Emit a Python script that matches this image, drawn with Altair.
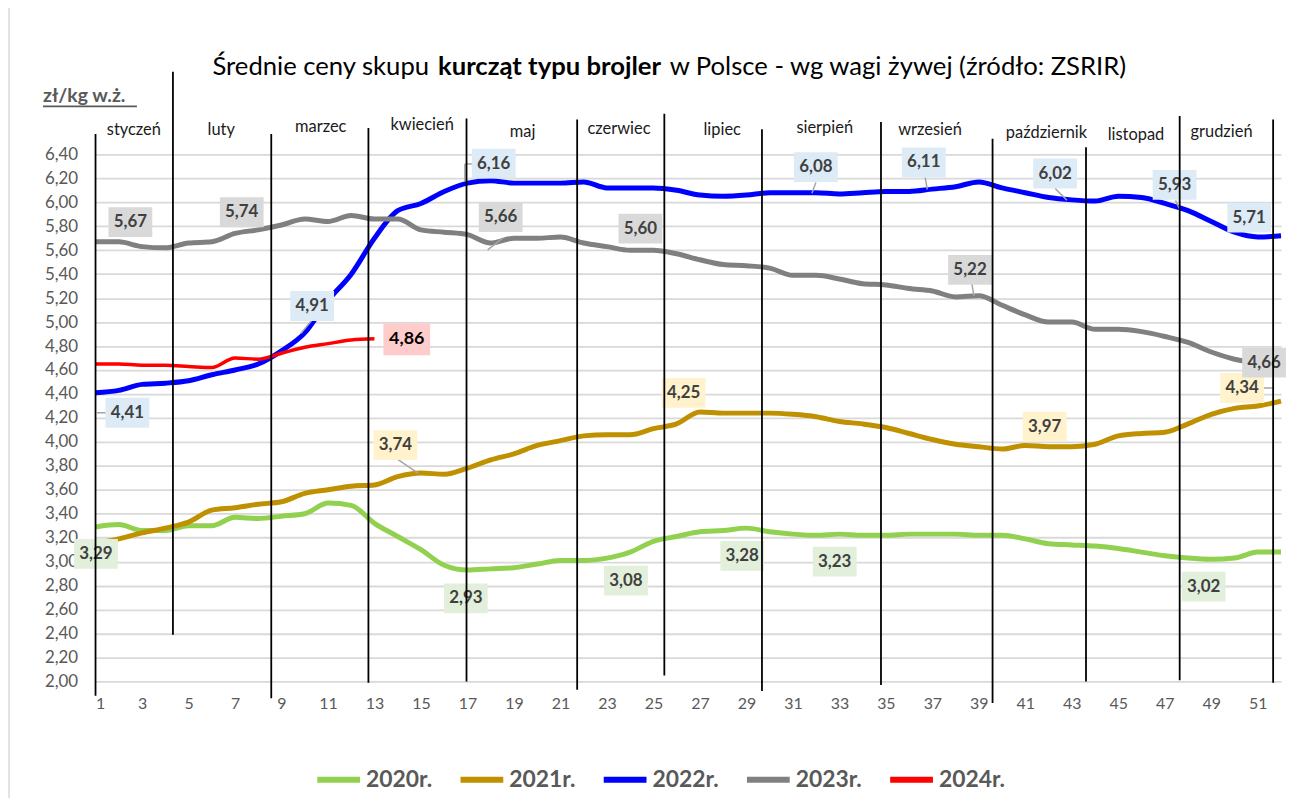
import altair as alt
import pandas as pd

# ---------------- data ----------------
weeks = list(range(1, 53))
years = ["2020r.", "2021r.", "2022r.", "2023r.", "2024r."]

p2020 = [3.29, 3.31, 3.26, 3.26, 3.30, 3.30, 3.37, 3.36, 3.38, 3.40, 3.49, 3.47, 3.32,
         3.21, 3.10, 2.97, 2.93, 2.94, 2.95, 2.98, 3.01, 3.01, 3.03, 3.08, 3.17, 3.21,
         3.25, 3.26, 3.28, 3.25, 3.23, 3.22, 3.23, 3.22, 3.22, 3.23, 3.23, 3.23, 3.22,
         3.22, 3.19, 3.15, 3.14, 3.13, 3.11, 3.08, 3.05, 3.03, 3.02, 3.03, 3.08, 3.08]
p2021 = [3.15, 3.19, 3.24, 3.28, 3.33, 3.43, 3.45, 3.48, 3.50, 3.57, 3.60, 3.63, 3.64,
         3.71, 3.74, 3.73, 3.78, 3.85, 3.90, 3.97, 4.01, 4.05, 4.06, 4.06, 4.11, 4.15,
         4.25, 4.24, 4.24, 4.24, 4.23, 4.21, 4.17, 4.15, 4.12, 4.07, 4.02, 3.98, 3.96,
         3.94, 3.97, 3.96, 3.96, 3.98, 4.05, 4.07, 4.08, 4.15, 4.23, 4.28, 4.30, 4.34]
p2022 = [4.41, 4.43, 4.48, 4.49, 4.51, 4.56, 4.60, 4.65, 4.76, 4.91, 5.18, 5.40, 5.70,
         5.93, 5.99, 6.09, 6.16, 6.18, 6.16, 6.16, 6.16, 6.17, 6.12, 6.12, 6.12, 6.10,
         6.06, 6.05, 6.06, 6.08, 6.08, 6.08, 6.07, 6.08, 6.09, 6.09, 6.11, 6.13, 6.17,
         6.12, 6.08, 6.04, 6.02, 6.01, 6.05, 6.04, 5.99, 5.93, 5.84, 5.75, 5.71, 5.72]
p2023 = [5.67, 5.67, 5.63, 5.62, 5.66, 5.67, 5.74, 5.77, 5.81, 5.86, 5.84, 5.89, 5.86,
         5.86, 5.77, 5.75, 5.73, 5.66, 5.70, 5.70, 5.71, 5.66, 5.63, 5.60, 5.60, 5.57,
         5.52, 5.48, 5.47, 5.45, 5.39, 5.39, 5.36, 5.32, 5.31, 5.28, 5.26, 5.21, 5.22,
         5.14, 5.06, 5.00, 5.00, 4.94, 4.94, 4.92, 4.88, 4.83, 4.75, 4.69, 4.66, 4.65]
p2024 = [4.65, 4.65, 4.64, 4.64, 4.63, 4.62, 4.70, 4.69, 4.74, 4.79, 4.82, 4.85, 4.86]

series = [p2020, p2021, p2022, p2023, p2024]

y_ticks = [round(2.0 + 0.2 * i, 2) for i in range(23)]
x_ticks = list(range(1, 53, 2))

months = ["styczeń", "luty", "marzec", "kwiecień", "maj", "czerwiec", "lipiec",
          "sierpień", "wrzesień", "październik", "listopad", "grudzień"]

# month separator lines (week position, top value, bottom value)
sep_week = [1.0, 4.33, 8.56, 12.74, 16.96, 21.72, 25.47, 29.67, 34.79, 39.59, 43.61, 47.64, 51.66]
sep_top = [6.57, 7.09, 6.57, 6.62, 6.70, 6.69, 6.74, 6.61, 6.67, 6.53, 6.46, 6.72, 6.69]
sep_bot = [1.88, 2.39, 1.86, 1.99, 2.00, 1.93, 2.05, 1.92, 1.97, 1.82, 2.00, 2.01, 1.99]

# labelled points: (series index, week)
label_pts = [(0, 1), (0, 17), (0, 24), (0, 29), (0, 33), (0, 49),
             (1, 15), (1, 27), (1, 41), (1, 52),
             (2, 1), (2, 10), (2, 17), (2, 32), (2, 37), (2, 43), (2, 48), (2, 51),
             (3, 1), (3, 7), (3, 18), (3, 24), (3, 39), (3, 51),
             (4, 13)]

# ---------------- layout (annotation placement, in axis units) ----------------
month_lx = [2.65, 6.41, 10.69, 15.05, 19.37, 23.52, 27.96, 32.37, 36.9, 41.91, 45.76, 49.44]
month_ly = [6.564, 6.564, 6.589, 6.605, 6.547, 6.572, 6.564, 6.580, 6.564, 6.539, 6.522, 6.547]

label_pos = [(1.02, 3.065), (16.93, 2.693), (23.82, 2.842), (28.82, 3.049), (32.80, 3.00), (48.67, 2.792),
             (13.90, 3.973), (26.30, 4.409), (41.83, 4.127), (50.33, 4.450),
             (2.37, 4.243), (10.32, 5.134), (18.13, 6.323), (31.99, 6.294), (36.63, 6.332),
             (42.28, 6.240), (47.42, 6.145), (50.63, 5.872),
             (2.50, 5.834), (7.29, 5.917), (18.43, 5.876), (24.44, 5.780), (38.62, 5.436), (51.27, 4.661),
             (14.39, 4.856)]

leaders = [(14.0, 3.853, 14.89, 3.737), (10.30, 5.013, 9.83, 4.905),
           (17.32, 6.32, 16.89, 6.32), (16.89, 6.32, 16.89, 6.174),
           (31.99, 6.166, 31.82, 6.075), (36.69, 6.207, 36.78, 6.108),
           (42.28, 6.116, 42.79, 6.017), (47.46, 6.016, 47.64, 5.942),
           (18.52, 5.702, 17.87, 5.603), (38.70, 5.319, 38.79, 5.219),
           (1.45, 4.243, 1.06, 4.243), (51.23, 4.45, 51.70, 4.45)]

line_colors = ["#92d050", "#bf9000", "#0000ff", "#808080", "#ff0000"]
box_colors = ["#e2efda", "#fff2cc", "#ddebf7", "#d9d9d9", "#ffcccc"]
FONT = "Lato"

# ---------------- tables ----------------
rows = []
for yr, vals in zip(years, series):
    for w, v in zip(weeks, vals):
        rows.append({"week": w, "value": v, "year": yr})
df = pd.DataFrame(rows)

lab_rows = []
for (si, wk), (lx, ly) in zip(label_pts, label_pos):
    v = series[si][wk - 1]
    lab_rows.append({"s": si, "lx": lx, "ly": ly, "label": f"{v:.2f}".replace(".", ",")})
lab_df = pd.DataFrame(lab_rows)

sep_df = pd.DataFrame({"w": sep_week, "top": sep_top, "bot": sep_bot})
mon_df = pd.DataFrame({"m": months, "lx": month_lx, "ly": month_ly})
lead_df = pd.DataFrame(leaders, columns=["x1", "y1", "x2", "y2"])

xs = alt.Scale(domain=[1, 52], nice=False, zero=False)
ys = alt.Scale(domain=[2.0, 6.4], nice=False, zero=False)

x_axis = alt.Axis(values=x_ticks, title=None, grid=False, labelFont=FONT, labelFontSize=16,
                  labelColor="#595959", labelPadding=14, labelOverlap=False,
                  domain=False, ticks=False)
y_axis = alt.Axis(values=y_ticks, title=None, grid=True, gridColor="#d9d9d9", gridWidth=1.8,
                  labelExpr="replace(format(datum.value, '.2f'), '.', ',')",
                  labelFont=FONT, labelFontSize=17, labelColor="#595959", labelPadding=18,
                  labelOverlap=False, labelBound=False, domain=False, ticks=False)


def X(field):
    return alt.X(field, type="quantitative", scale=xs, axis=x_axis)


def Y(field):
    return alt.Y(field, type="quantitative", scale=ys, axis=y_axis)


color_scale = alt.Scale(domain=years, range=line_colors)
legend = alt.Legend(orient="none", legendX=220, legendY=604, direction="horizontal",
                    title=None, symbolType="stroke", symbolSize=1849, symbolStrokeWidth=6,
                    labelFont=FONT, labelFontSize=23, labelFontWeight="bold",
                    labelColor="#595959", columnPadding=16, labelOffset=3, padding=0)

base = alt.Chart(df)
lines_main = base.transform_filter(alt.datum.year != "2024r.").mark_line(
    strokeWidth=5, interpolate="monotone").encode(
    x=X("week"), y=Y("value"),
    color=alt.Color("year:N", scale=color_scale, legend=legend),
    detail="year:N",
)
line_2024 = base.transform_filter(alt.datum.year == "2024r.").mark_line(
    strokeWidth=3.5, interpolate="monotone").encode(
    x=X("week"), y=Y("value"),
    color=alt.Color("year:N", scale=color_scale, legend=legend),
)

leader_layer = alt.Chart(lead_df).mark_rule(color="#a6a6a6", strokeWidth=1.5).encode(
    x=X("x1"), x2="x2:Q", y=Y("y1"), y2="y2:Q")

box_layers = []
for si in range(5):
    sub = lab_df[lab_df.s == si]
    w = 47 if si == 4 else 44
    h = 32 if si == 4 else 30
    box_layers.append(alt.Chart(sub).mark_rect(width=w, height=h, color=box_colors[si]).encode(
        x=X("lx"), y=Y("ly")))
    box_layers.append(alt.Chart(sub).mark_text(
        font=FONT, fontSize=18 if si == 4 else 17, fontWeight="bold",
        color="#000000" if si == 4 else "#404040").encode(
        x=X("lx"), y=Y("ly"), text="label:N"))

sep_layer = alt.Chart(sep_df).mark_rule(color="#000000", strokeWidth=1.8).encode(
    x=X("w"), y=Y("top"), y2="bot:Q")

month_layer = alt.Chart(mon_df).mark_text(font=FONT, fontSize=16.5, color="#1a1a1a",
                                          baseline="alphabetic").encode(
    x=X("lx"), y=Y("ly"), text="m:N")

TITLE_SIZE = 25.8
title_parts = pd.DataFrame({
    "t": ["Średnie ceny skupu", "kurcząt typu brojler", "w Polsce - wg wagi żywej (źródło: ZSRIR)"],
    "lx": [15.35, 20.53, 25.70], "ly": [7.127, 7.127, 7.127]})
t1 = alt.Chart(title_parts.iloc[[0]]).mark_text(font=FONT, fontSize=TITLE_SIZE, align="right",
                                                baseline="middle", color="#000000").encode(
    x=X("lx"), y=Y("ly"), text="t:N")
t2 = alt.Chart(title_parts.iloc[[1]]).mark_text(font=FONT, fontSize=TITLE_SIZE, align="center",
                                                fontWeight="bold", baseline="middle",
                                                color="#000000").encode(
    x=X("lx"), y=Y("ly"), text="t:N")
t3 = alt.Chart(title_parts.iloc[[2]]).mark_text(font=FONT, fontSize=TITLE_SIZE, align="left",
                                                baseline="middle", color="#000000").encode(
    x=X("lx"), y=Y("ly"), text="t:N")

unit_df = pd.DataFrame({"t": ["zł/kg w.ż."], "lx": [-1.26], "ly": [6.837], "lx2": [2.78], "uy": [6.80]})
unit_text = alt.Chart(unit_df).mark_text(font=FONT, fontSize=19.5, fontWeight="bold", align="left",
                                         baseline="alphabetic", color="#595959").encode(
    x=X("lx"), y=Y("ly"), text="t:N")
unit_line = alt.Chart(unit_df).mark_rule(color="#595959", strokeWidth=1.8).encode(
    x=X("lx"), x2="lx2:Q", y=Y("uy"))

frame_df = pd.DataFrame({"fx": [-2.72], "fy1": [9.0], "fy2": [-1.0]})
frame = alt.Chart(frame_df).mark_rule(color="#d9d9d9", strokeWidth=1.5).encode(
    x=X("fx"), y=Y("fy1"), y2="fy2:Q")

chart = alt.layer(
    lines_main, line_2024, leader_layer, *box_layers, sep_layer, month_layer,
    t1, t2, t3, unit_text, unit_line, frame
).properties(
    width=1192, height=530,
    padding={"left": 88, "top": 145, "right": 6, "bottom": 115},
    autosize=alt.AutoSizeParams(type="none"),
    background="#ffffff",
).configure_view(stroke=None).configure_axisY(labelOverlap=False)

chart.save("out.html", embed_options={"renderer": "svg", "actions": False})
